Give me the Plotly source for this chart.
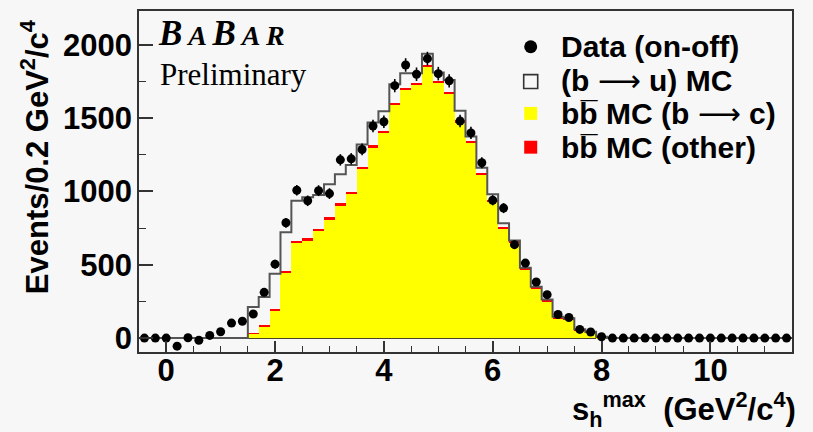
import plotly.graph_objects as go

# ---- data ----
bin_centers = [-0.4, -0.2, 0.0, 0.2, 0.4, 0.6, 0.8, 1.0, 1.2, 1.4,
               1.6, 1.8, 2.0, 2.2, 2.4, 2.6, 2.8, 3.0, 3.2, 3.4,
               3.6, 3.8, 4.0, 4.2, 4.4, 4.6, 4.8, 5.0, 5.2, 5.4,
               5.6, 5.8, 6.0, 6.2, 6.4, 6.6, 6.8, 7.0, 7.2, 7.4,
               7.6, 7.8, 8.0, 8.2, 8.4, 8.6, 8.8, 9.0, 9.2, 9.4,
               9.6, 9.8, 10.0, 10.2, 10.4, 10.6, 10.8, 11.0, 11.2, 11.4]

data_onoff = [0, 0, 0, -55, 2, -15, 18, 43, 102, 115,
              164, 312, 504, 786, 1008, 936, 1005, 985, 1215, 1222,
              1286, 1446, 1475, 1721, 1862, 1799, 1905, 1803, 1754, 1480,
              1399, 1195, 940, 886, 637, 511, 382, 296, 161, 140,
              59, 41, 9, 0, 0, 0, 0, 0, 0, 0,
              0, 0, 0, 0, 0, 0, 0, 0, 0, 0]

data_err = [6, 6, 6, 15, 14, 15, 16, 18, 20, 21,
            23, 26, 30, 33, 36, 36, 37, 37, 39, 39,
            40, 42, 42, 45, 46, 46, 47, 46, 45, 42,
            41, 38, 35, 34, 30, 28, 25, 22, 18, 17,
            12, 10, 6, 3, 3, 3, 3, 3, 3, 3,
            3, 3, 3, 3, 3, 3, 3, 3, 3, 3]

bb_bc = [0, 0, 0, 0, 0, 0, 0, 0, 0, 0,
         28, 82, 189, 444, 652, 668, 732, 811, 907, 986,
         1153, 1300, 1401, 1588, 1688, 1724, 1846, 1736, 1668, 1471,
         1333, 1112, 930, 745, 650, 467, 338, 252, 136, 126,
         54, 38, 7, 0, 0, 0, 0, 0, 0, 0,
         0, 0, 0, 0, 0, 0, 0, 0, 0, 0]

bb_other = [0, 0, 0, 0, 0, 0, 0, 0, 0, 0,
            4, 6, 8, 10, 12, 12, 12, 12, 13, 13,
            13, 13, 14, 14, 14, 14, 14, 14, 13, 13,
            13, 13, 10, 10, 10, 10, 10, 10, 6, 6,
            5, 5, 2, 0, 0, 0, 0, 0, 0, 0,
            0, 0, 0, 0, 0, 0, 0, 0, 0, 0]

b_to_u = [0, 0, 0, 0, 0, 0, 0, 0, 0, 0,
          180, 192, 241, 267, 272, 280, 231, 226, 197, 181,
          154, 157, 131, 129, 104, 68, 78, 60, 79, 66,
          28, 37, 41, 27, 6, 3, 2, 1, 3, 3,
          1, 0, 0, 0, 0, 0, 0, 0, 0, 0,
          0, 0, 0, 0, 0, 0, 0, 0, 0, 0]

x_ticks = [0, 2, 4, 6, 8, 10]
y_ticks = [0, 500, 1000, 1500, 2000]

ARROW = "</b><span style='font-family:DejaVu Sans;font-weight:normal'>\u27f6</span><b>"
legend_labels = ["Data (on-off)",
                 "(b " + ARROW + " u) MC",
                 "bb\u0305 MC (b " + ARROW + " c)",
                 "bb\u0305 MC (other)"]

# ---- geometry helpers (pixel -> paper) ----
W, H = 813, 432
L, R, T, B = 139, 21, 9, 80
PW, PH = W - L - R, H - T - B


def px(x):
    return (x - L) / PW


def py(y):
    return (H - B - y) / PH


BG = "#f7f7f7"
SANS = "Liberation Sans, Arial, Helvetica, sans-serif"
SERIF = "Liberation Serif, Times New Roman, serif"

mc_total = [a + b + c for a, b, c in zip(bb_bc, bb_other, b_to_u)]

fig = go.Figure()
fig.add_trace(go.Bar(x=bin_centers, y=bb_bc, width=0.2,
                     marker=dict(color="#ffff00", line=dict(width=0)),
                     showlegend=False, hoverinfo="skip"))
fig.add_trace(go.Bar(x=bin_centers, y=bb_other, width=0.2,
                     marker=dict(color="#ff0000", line=dict(width=0)),
                     showlegend=False, hoverinfo="skip"))
fig.add_trace(go.Scatter(x=bin_centers, y=mc_total, mode="lines",
                         line=dict(shape="hvh", color="#555555", width=2),
                         showlegend=False, hoverinfo="skip"))
fig.add_trace(go.Scatter(x=bin_centers, y=data_onoff, mode="markers",
                         marker=dict(color="black", size=9),
                         error_y=dict(type="data", array=data_err, color="black",
                                      thickness=1.6, width=0),
                         error_x=dict(type="constant", value=0.07, color="black",
                                      thickness=1.6, width=0),
                         showlegend=False))

annotations = []
# BaBar logo
SM = "<span style='font-size:28px'>"
annotations.append(dict(
    text="<b><i>B" + SM + " A </span>B" + SM + " A R</span></i></b>",
    xref="paper", yref="paper", x=px(156), y=py(32), xanchor="left", yanchor="middle",
    showarrow=False, font=dict(family=SERIF, size=35, color="black")))
annotations.append(dict(
    text="Preliminary", xref="paper", yref="paper", x=px(158), y=py(73),
    xanchor="left", yanchor="middle", showarrow=False,
    font=dict(family=SERIF, size=31, color="black")))

# legend
leg_y = [45, 79, 112.5, 146]
for lab, yy in zip(legend_labels, leg_y):
    annotations.append(dict(
        text="<b>" + lab + "</b>", xref="paper", yref="paper", x=px(559), y=py(yy),
        xanchor="left", yanchor="middle", showarrow=False,
        font=dict(family=SANS, size=30, color="black")))

# axis titles
annotations.append(dict(
    text="<b>Events/0.2 GeV<sup>2</sup>/c<sup>4</sup></b>", xref="paper", yref="paper",
    x=px(35), y=py(156), xanchor="center", yanchor="middle", textangle=-90,
    showarrow=False, font=dict(family=SANS, size=31, color="black")))
annotations.append(dict(
    text="<b>s<sub>h</sub><sup>max</sup>  (GeV<sup>2</sup>/c<sup>4</sup>)</b>",
    xref="paper", yref="paper", x=px(798), y=py(410), xanchor="right", yanchor="middle",
    showarrow=False, font=dict(family=SANS, size=31, color="black")))

shapes = []
cx = 530.7
shapes.append(dict(type="circle", xref="paper", yref="paper",
                   x0=px(cx - 6.5), x1=px(cx + 6.5), y0=py(45 + 6.5), y1=py(45 - 6.5),
                   fillcolor="black", line=dict(width=0)))
shapes.append(dict(type="rect", xref="paper", yref="paper",
                   x0=px(cx - 7), x1=px(cx + 7), y0=py(80 + 7), y1=py(80 - 7),
                   fillcolor=BG, line=dict(color="#333333", width=1.6)))
shapes.append(dict(type="rect", xref="paper", yref="paper",
                   x0=px(cx - 6.5), x1=px(cx + 6.5), y0=py(112 + 6.5), y1=py(112 - 6.5),
                   fillcolor="#ffff00", line=dict(width=0)))
shapes.append(dict(type="rect", xref="paper", yref="paper",
                   x0=px(cx - 6.5), x1=px(cx + 6.5), y0=py(146 + 6.5), y1=py(146 - 6.5),
                   fillcolor="#ff0000", line=dict(width=0)))

axis_common = dict(showgrid=False, showline=True, linecolor="#333333", linewidth=1.6,
                   mirror=True, ticks="inside", tickcolor="#333333", tickwidth=1.5,
                   tickfont=dict(family=SANS, size=31, color="black", weight="bold"))

fig.update_layout(
    width=W, height=H, autosize=False,
    margin=dict(l=L, r=R, t=T, b=B, pad=0),
    paper_bgcolor=BG, plot_bgcolor=BG,
    barmode="stack", bargap=0,
    showlegend=False,
    xaxis=dict(range=[-0.5, 11.5], tickmode="array", tickvals=x_ticks,
               ticklen=11, zeroline=False, ticklabelstandoff=-10,
               minor=dict(dtick=0.5, tick0=0, ticks="inside", ticklen=6,
                          tickcolor="#333333", tickwidth=1.2, showgrid=False),
               **axis_common),
    yaxis=dict(range=[-95, 2230], tickmode="array", tickvals=y_ticks,
               ticklen=14, zeroline=True, zerolinecolor="#4a4228", zerolinewidth=2,
               ticklabelstandoff=-1,
               minor=dict(dtick=250, tick0=0, ticks="inside", ticklen=7,
                          tickcolor="#333333", tickwidth=1.2, showgrid=False),
               **axis_common),
    annotations=annotations,
    shapes=shapes,
)

fig.write_html("out.html")
